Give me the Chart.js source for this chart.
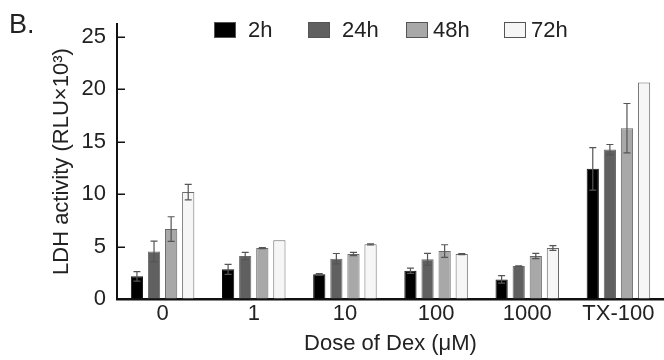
<!DOCTYPE html>
<html>
<head>
<meta charset="utf-8">
<script src="https://cdn.jsdelivr.net/npm/chart.js@4/dist/chart.umd.min.js"></script>
<style>
  html, body { margin: 0; padding: 0; background: #fff; overflow: hidden; }
  #wrap { position: relative; width: 664px; height: 360px; }
</style>
</head>
<body>
<div id="wrap"><canvas id="chart-ldh" width="664" height="360"></canvas></div>
<script>
// Dose groups on the x axis
const doses = ['0', '1', '10', '100', '1000', 'TX-100'];
const seriesNames = ['2h', '24h', '48h', '72h'];

// LDH activity (RLU x 10^3), mean values
const ldh2h  = [2.16, 2.83, 2.35, 2.70, 1.87, 12.41];
const ldh24h = [4.54, 4.10, 3.84, 3.78, 3.14, 14.25];
const ldh48h = [6.67, 4.86, 4.29, 4.57, 4.10, 16.29];
const ldh72h = [10.19, 5.59, 5.21, 4.29, 4.86, 20.63];

// error bars (+/-)
const err2h  = [0.45, 0.48, 0.07, 0.25, 0.35, 2.03];
const err24h = [0.98, 0.35, 0.50, 0.57, 0.03, 0.48];
const err48h = [1.17, 0.05, 0.15, 0.60, 0.25, 2.35];
const err72h = [0.73, 0.00, 0.06, 0.05, 0.22, 0.00];

const yTicks = [0, 5, 10, 15, 20, 25];

const fills = ['#000000', '#606060', '#a8a8a8', '#f6f6f6'];
const FONT = '"Liberation Sans", Arial, sans-serif';

const values = [ldh2h, ldh24h, ldh48h, ldh72h];
const errors = [err2h, err24h, err48h, err72h];

const datasets = seriesNames.map((name, i) => ({
  label: name,
  data: values[i],
  errors: errors[i],
  backgroundColor: fills[i],
  borderColor: i === 0 ? '#111' : '#6a6a6a',
  borderWidth: 1,
  barPercentage: 0.715,
  categoryPercentage: 0.75
}));

// draws the +/- error whiskers on each bar
const errorBars = {
  id: 'errorBars',
  afterDatasetsDraw(chart) {
    const ctx = chart.ctx;
    const y = chart.scales.y;
    ctx.save();
    ctx.strokeStyle = '#555';
    ctx.lineWidth = 1.2;
    chart.data.datasets.forEach((ds, di) => {
      const meta = chart.getDatasetMeta(di);
      meta.data.forEach((bar, j) => {
        const e = ds.errors[j];
        if (!e) return;
        const v = ds.data[j];
        const top = y.getPixelForValue(v + e);
        const bot = y.getPixelForValue(v - e);
        const cap = 3.5;
        ctx.beginPath();
        ctx.moveTo(bar.x, top); ctx.lineTo(bar.x, bot);
        ctx.moveTo(bar.x - cap, top); ctx.lineTo(bar.x + cap, top);
        ctx.moveTo(bar.x - cap, bot); ctx.lineTo(bar.x + cap, bot);
        ctx.stroke();
      });
    });
    ctx.restore();
  }
};

// y tick marks pointing into the plot
const innerTicks = {
  id: 'innerTicks',
  afterDraw(chart) {
    const ctx = chart.ctx;
    const y = chart.scales.y;
    const left = chart.chartArea.left;
    ctx.save();
    ctx.strokeStyle = '#111';
    ctx.lineWidth = 1.5;
    y.ticks.forEach(t => {
      const py = Math.round(y.getPixelForValue(t.value)) + 0.25;
      ctx.beginPath();
      ctx.moveTo(left, py);
      ctx.lineTo(left + 8, py);
      ctx.stroke();
    });
    ctx.restore();
  }
};

// legend row across the top of the plot + panel letter
const legendX = [214, 308, 406, 504];
const topLegend = {
  id: 'topLegend',
  afterDraw(chart) {
    const ctx = chart.ctx;
    ctx.save();
    ctx.font = '22px ' + FONT;
    ctx.textBaseline = 'middle';
    chart.data.datasets.forEach((ds, i) => {
      const x = legendX[i];
      ctx.fillStyle = ds.backgroundColor;
      ctx.fillRect(x, 22, 22, 16);
      ctx.strokeStyle = '#555';
      ctx.lineWidth = 1;
      ctx.strokeRect(x + 0.5, 22.5, 21, 15);
      ctx.fillStyle = '#222';
      ctx.fillText(ds.label, x + (i < 2 ? 34 : 27), 31);
    });
    ctx.font = '27px ' + FONT;
    ctx.textBaseline = 'alphabetic';
    ctx.fillText('B.', 9, 33);
    ctx.restore();
  }
};

new Chart(document.getElementById('chart-ldh'), {
  type: 'bar',
  data: { labels: doses, datasets: datasets },
  options: {
    responsive: false,
    animation: false,
    layout: { padding: { top: 24, right: -4, bottom: 0, left: 0 } },
    plugins: {
      legend: { display: false },
      tooltip: { enabled: false }
    },
    scales: {
      x: {
        grid: { display: false, drawTicks: false },
        border: { color: '#111', width: 2.5 },
        ticks: { color: '#222', padding: 2, font: { family: FONT, size: 22 } },
        title: {
          display: true,
          text: 'Dose of Dex (μM)',
          color: '#222',
          font: { family: FONT, size: 22 },
          padding: { top: 0, bottom: 3 }
        },
        afterFit: s => { s.height = 61; }
      },
      y: {
        min: 0,
        max: 26.2,
        afterBuildTicks: s => { s.ticks = yTicks.map(v => ({ value: v })); },
        grid: { drawOnChartArea: false, drawTicks: false },
        border: { color: '#111', width: 2 },
        ticks: { color: '#222', padding: 11, font: { family: FONT, size: 22 } },
        title: {
          display: true,
          text: 'LDH activity (RLU×10³)',
          color: '#222',
          font: { family: FONT, size: 22 },
          padding: { top: 49, bottom: 0 }
        },
        afterFit: s => { s.width = 117; }
      }
    }
  },
  plugins: [errorBars, innerTicks, topLegend]
});
</script>
</body>
</html>
